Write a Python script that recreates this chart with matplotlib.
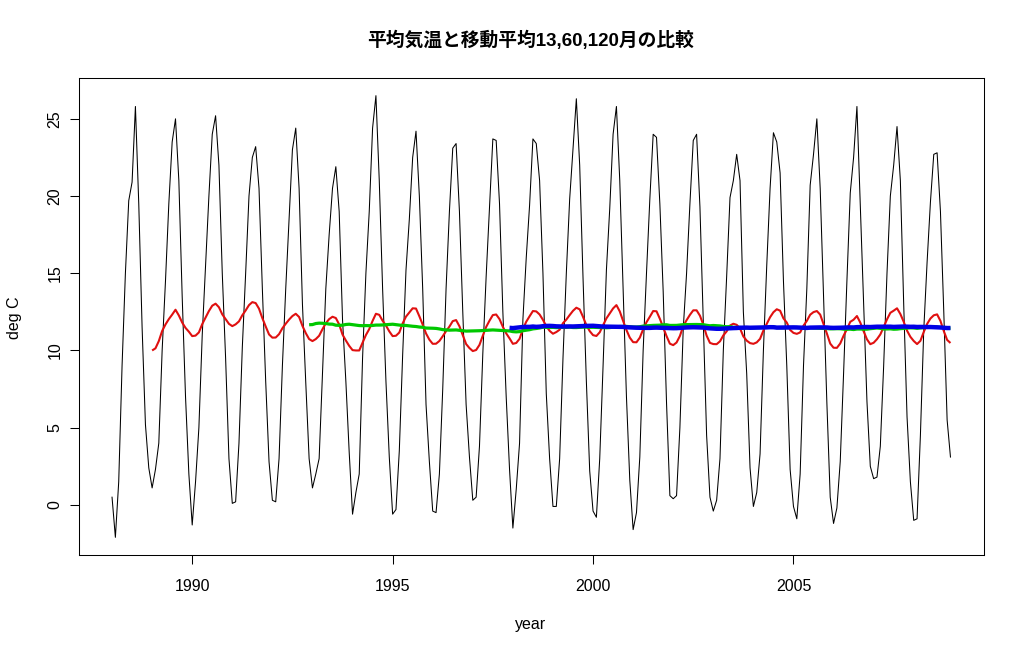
import numpy as np
import matplotlib
matplotlib.use("Agg")
import matplotlib.pyplot as plt

# 月平均気温 (deg C)  1988年1月〜2008年12月, 画像から読み取り
y1988 = [0.5, -2.1, 1.5, 9.0, 15.0, 19.7, 20.9, 25.8, 19.5, 11.5, 5.2, 2.4]
y1989 = [1.1, 2.3, 4.0, 10.0, 14.5, 19.5, 23.5, 25.0, 21.0, 13.5, 7.0, 2.0]
y1990 = [-1.3, 1.5, 5.0, 11.0, 15.5, 20.0, 24.0, 25.2, 22.0, 15.0, 9.5, 3.0]
y1991 = [0.1, 0.2, 4.0, 10.2, 15.0, 20.0, 22.5, 23.2, 20.5, 14.0, 8.0, 2.8]
y1992 = [0.3, 0.2, 3.0, 9.0, 14.0, 18.5, 23.0, 24.4, 20.5, 13.0, 7.9, 3.0]
y1993 = [1.1, 2.0, 3.0, 8.5, 14.0, 17.5, 20.5, 21.9, 19.0, 12.0, 8.0, 3.4]
y1994 = [-0.6, 0.8, 2.0, 9.5, 15.0, 19.0, 24.4, 26.5, 21.0, 14.0, 8.0, 3.1]
y1995 = [-0.6, -0.3, 3.5, 9.7, 15.2, 18.5, 22.5, 24.2, 20.0, 14.0, 6.5, 2.8]
y1996 = [-0.4, -0.5, 2.0, 7.5, 14.0, 19.0, 23.1, 23.4, 19.0, 12.5, 6.5, 3.1]
y1997 = [0.3, 0.5, 3.8, 9.8, 14.8, 19.3, 23.7, 23.6, 19.5, 12.5, 7.0, 2.3]
y1998 = [-1.5, 1.0, 4.0, 12.0, 16.0, 19.4, 23.7, 23.4, 21.0, 15.0, 7.2, 3.0]
y1999 = [-0.1, -0.1, 3.0, 9.5, 15.0, 19.8, 23.0, 26.3, 22.0, 14.7, 8.0, 2.2]
y2000 = [-0.4, -0.8, 3.0, 9.0, 15.2, 19.2, 24.0, 25.8, 21.0, 14.0, 7.0, 1.6]
y2001 = [-1.6, -0.5, 3.1, 10.0, 15.0, 19.8, 24.0, 23.8, 19.5, 13.8, 6.6, 0.6]
y2002 = [0.4, 0.6, 5.0, 11.4, 15.0, 19.5, 23.6, 24.0, 19.3, 12.0, 4.5, 0.5]
y2003 = [-0.4, 0.3, 3.0, 10.0, 14.8, 19.9, 21.0, 22.7, 21.0, 12.5, 8.5, 2.4]
y2004 = [-0.1, 0.8, 3.3, 10.0, 15.5, 20.5, 24.1, 23.5, 21.5, 14.5, 9.0, 2.3]
y2005 = [-0.1, -0.9, 2.0, 9.0, 14.0, 20.7, 22.7, 25.0, 20.5, 13.5, 6.6, 0.5]
y2006 = [-1.2, -0.2, 2.8, 8.5, 14.5, 20.2, 22.5, 25.8, 19.5, 13.2, 6.7, 2.5]
y2007 = [1.7, 1.8, 3.8, 9.0, 15.0, 20.0, 22.0, 24.5, 21.0, 13.0, 5.7, 1.5]
y2008 = [-1.0, -0.9, 4.5, 11.3, 15.7, 19.6, 22.7, 22.8, 19.0, 12.5, 5.5, 3.1]

start_year = 1988
windows = [13, 60, 120]          # 移動平均の月数
ma_colors = ["#e01010", "#00c800", "#0000e6"]
ma_widths = [1.5, 2.3, 3.2]

temp = np.concatenate([y1988, y1989, y1990, y1991, y1992, y1993, y1994,
                       y1995, y1996, y1997, y1998, y1999, y2000, y2001,
                       y2002, y2003, y2004, y2005, y2006, y2007, y2008])
t = start_year + np.arange(len(temp)) / 12.0

fig = plt.figure(figsize=(10.24, 6.53), dpi=100)
ax = fig.add_axes([78.5 / 1024, 1 - 555 / 653, (984 - 78.5) / 1024, (555 - 78) / 653])

ax.plot(t, temp, color="black", lw=0.75)
# 後方移動平均 (k か月分たまった時点から)
for k, c, w in zip(windows, ma_colors, ma_widths):
    ma = np.convolve(temp, np.ones(k) / k, mode="valid")
    ax.plot(t[k - 1:], ma, color=c, lw=w, solid_capstyle="butt")

ax.margins(x=0.04, y=0.04)
ax.set_xticks([1990, 1995, 2000, 2005])
ax.set_yticks([0, 5, 10, 15, 20, 25])
ax.tick_params(direction="out", length=6.5, width=0.75, labelsize=11.5,
               colors="black")
ax.tick_params(axis="x", pad=11)
ax.tick_params(axis="y", pad=5)
for lab in ax.get_yticklabels():
    lab.set_rotation(90)
    lab.set_va("center")
for s in ax.spines.values():
    s.set_linewidth(0.75)

fam = ["Liberation Sans", "Noto Sans CJK JP"]
fig.text(531 / 1024, 1 - 40 / 653, "平均気温と移動平均13,60,120月の比較",
         ha="center", va="center", fontsize=13.5, fontweight="bold", family=fam)
fig.text(531 / 1024, 1 - 625 / 653, "year", ha="center", va="center",
         fontsize=11.5, family=fam)
fig.text(15 / 1024, 1 - 318 / 653, "deg C", ha="center", va="center",
         rotation=90, fontsize=11.5, family=fam)

for lab in ax.get_xticklabels() + ax.get_yticklabels():
    lab.set_family(fam)

fig.savefig("out.png", dpi=100)
